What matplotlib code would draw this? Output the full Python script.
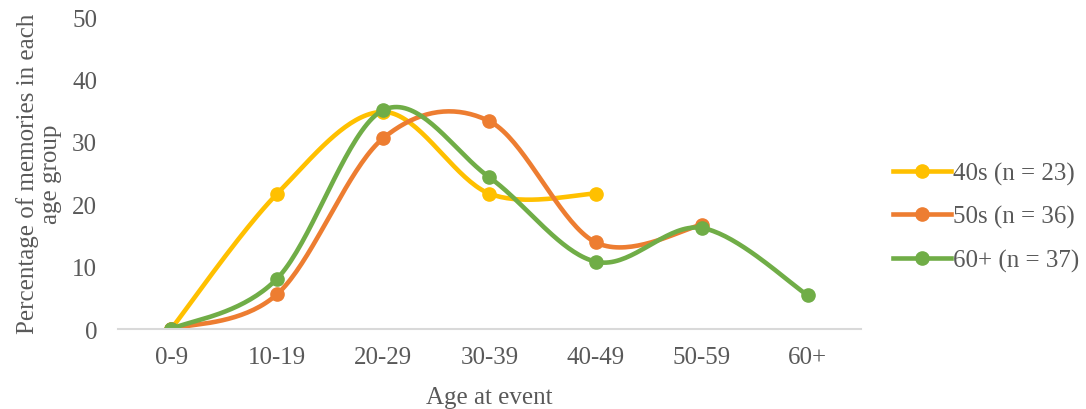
import matplotlib.pyplot as plt
import numpy as np

plt.rcParams['font.family'] = ['Liberation Serif', 'DejaVu Serif']
grey = '#595959'

# Доля воспоминаний по возрастным группам, %
groups = ['0-9', '10-19', '20-29', '30-39', '40-49', '50-59', '60+']
s40 = [0, 21.7, 34.8, 21.7, 21.7]
s50 = [0, 5.6, 30.6, 33.3, 13.9, 16.7]
s60 = [0, 8.1, 35.1, 24.3, 10.8, 16.2, 5.4]

labels = ['40s (n = 23)', '50s (n = 36)', '60+ (n = 37)']
colors = ['#FFC000', '#ED7D31', '#70AD47']


## Сглаживание линии как в Excel (кривые Безье)
def smooth(y, steps=40):
    x = np.arange(len(y), dtype=float)
    y = np.asarray(y, dtype=float)
    n = len(y)
    xs, ys = [], []
    for i in range(n - 1):
        i0, i3 = max(i - 1, 0), min(i + 2, n - 1)
        p0 = np.array([x[i], y[i]])
        p3 = np.array([x[i + 1], y[i + 1]])
        c1 = p0 + (np.array([x[i + 1], y[i + 1]]) - np.array([x[i0], y[i0]])) / 6
        c2 = p3 - (np.array([x[i3], y[i3]]) - np.array([x[i], y[i]])) / 6
        t = np.linspace(0, 1, steps)[:, None]
        pts = ((1 - t) ** 3) * p0 + 3 * ((1 - t) ** 2) * t * c1 + 3 * (1 - t) * t ** 2 * c2 + t ** 3 * p3
        xs.extend(pts[:, 0])
        ys.extend(pts[:, 1])
    return xs, ys


fig = plt.figure(figsize=(10.86, 4.10), dpi=100)
ax = fig.add_axes([0.1087, 0.195, 0.684, 0.761])

for data, lab, col in zip([s40, s50, s60], labels, colors):
    sx, sy = smooth(data)
    ax.plot(sx, sy, color=col, linewidth=3.3, solid_capstyle='round')
    ax.plot(range(len(data)), data, 'o', color=col, markersize=9.5)
    ax.plot([], [], color=col, linewidth=3.3, marker='o', markersize=9.5, label=lab)

ax.set_xlim(-0.5, 6.5)
ax.set_ylim(0, 50)
ax.set_xticks(range(len(groups)))
ax.set_xticklabels(groups)
ax.set_yticks(range(0, 51, 10))
ax.tick_params(length=0, labelsize=18, colors=grey, pad=12)
ax.tick_params(axis='y', pad=15)

for side in ['top', 'right', 'left']:
    ax.spines[side].set_visible(False)
ax.spines['bottom'].set_color('#d9d9d9')
ax.spines['bottom'].set_linewidth(1.5)

ax.set_xlabel('Age at event', fontsize=18, color=grey, labelpad=13)
ax.set_ylabel('Percentage of memories in each\nage group', fontsize=18, color=grey,
              labelpad=7, linespacing=1.1)

ax.legend(loc='center left', bbox_to_anchor=(1.03, 0.36), frameon=False, fontsize=18,
          labelcolor=grey, handlelength=2.3, handletextpad=0.1, labelspacing=0.82,
          borderaxespad=0.0)

plt.savefig('out.png', dpi=100)
